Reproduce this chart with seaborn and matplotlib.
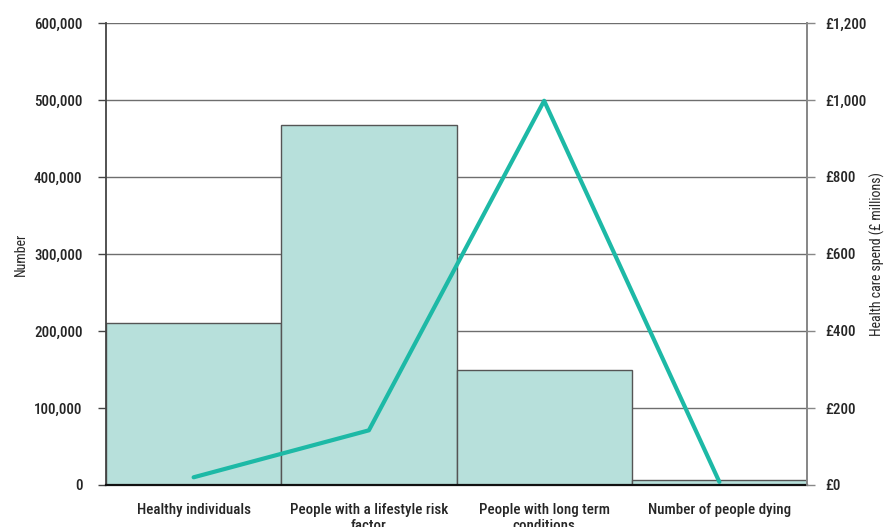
import numpy as np
import pandas as pd
import matplotlib
matplotlib.use("Agg")
import matplotlib.pyplot as plt
import seaborn as sns
from matplotlib import font_manager
from matplotlib.ticker import FuncFormatter, FixedLocator

categories = [
    "Healthy individuals",
    "People with a lifestyle risk\nfactor",
    "People with long term\nconditions",
    "Number of people dying",
]
people = [210000, 467000, 150000, 6500]
spend = [20, 142, 998, 8]

left_ticks = [0, 100000, 200000, 300000, 400000, 500000, 600000]
right_ticks = [0, 200, 400, 600, 800, 1000, 1200]

sns.set_theme(style="white")

# Prefer a narrow sans face; otherwise fall back to a condensed DejaVu
installed = {f.name for f in font_manager.fontManager.ttflist}
narrow = [n for n in ["Liberation Sans Narrow", "Roboto Condensed", "Open Sans Condensed"]
          if n in installed]
if narrow:
    plt.rcParams["font.family"] = [narrow[0], "DejaVu Sans"]
else:
    plt.rcParams["font.family"] = ["DejaVu Sans"]
    plt.rcParams["font.stretch"] = "condensed"
plt.rcParams["font.weight"] = "medium"
plt.rcParams["text.color"] = "#262626"

TXT = "#262626"
BAR = "#b7e0db"
LINE = "#1db9a6"
GRID = "#6e6e6e"
FS = 10.8

fig = plt.figure(figsize=(8.87, 5.27), dpi=100)
ax = fig.add_axes([106 / 887, 1 - 485 / 527, 701 / 887, 462 / 527])

df = pd.DataFrame({"category": categories, "people": people, "spend": spend})
df["pos"] = np.arange(len(df))

sns.barplot(data=df, x="category", y="people", order=categories, width=1.0,
            color=BAR, saturation=1, edgecolor="#555555", linewidth=1.0, ax=ax)

ax.set_xlim(-0.5, len(categories) - 0.5)
ax.set_ylim(0, 600000)
ax.yaxis.set_major_locator(FixedLocator(left_ticks))
ax.yaxis.set_major_formatter(FuncFormatter(lambda v, p: f"{int(v):,}"))
ax.set_axisbelow(True)
ax.grid(axis="y", color=GRID, linewidth=1.0)
ax.grid(axis="x", visible=False)

ax.set_xlabel("")
ax.set_ylabel("Number", fontsize=10)
ax.yaxis.set_label_coords(-0.112, 0.5)
ax.set_xticks(range(len(categories)))
ax.set_xticklabels(categories, fontsize=FS, linespacing=1.2, va="top", color=TXT)
ax.tick_params(axis="x", which="major", length=0, pad=13)
ax.set_xticks([0.5, 1.5, 2.5], minor=True)
ax.tick_params(axis="x", which="minor", length=6, width=1, color="#444444", direction="out")
ax.tick_params(axis="y", length=6, width=1, color="#444444", direction="out",
               labelsize=FS, pad=11, labelcolor=TXT)

ax.spines["top"].set_visible(False)
ax.spines["left"].set_color("#444444")
ax.spines["left"].set_linewidth(1.3)
ax.spines["bottom"].set_color("#111111")
ax.spines["bottom"].set_linewidth(1.6)
ax.spines["right"].set_color("#888888")
ax.spines["right"].set_linewidth(1.3)

ax2 = ax.twinx()
sns.lineplot(data=df, x="pos", y="spend", color=LINE, linewidth=3, ax=ax2)
ax2.set_ylim(0, 1200)
ax2.set_xlim(-0.5, len(categories) - 0.5)
ax2.yaxis.set_major_locator(FixedLocator(right_ticks))
ax2.yaxis.set_major_formatter(FuncFormatter(lambda v, p: f"£{int(v):,}"))
ax2.tick_params(axis="y", length=6, width=1, color="#888888", direction="out",
                labelsize=FS, pad=7, labelcolor=TXT)
ax2.set_ylabel("Health care spend (£ millions)", fontsize=10, rotation=90)
ax2.yaxis.set_label_coords(1.089, 0.5)
ax2.grid(False)
for side in ["top", "left", "bottom"]:
    ax2.spines[side].set_visible(False)
ax2.spines["right"].set_color("#888888")
ax2.spines["right"].set_linewidth(1.3)

fig.savefig("out.png", dpi=100)
